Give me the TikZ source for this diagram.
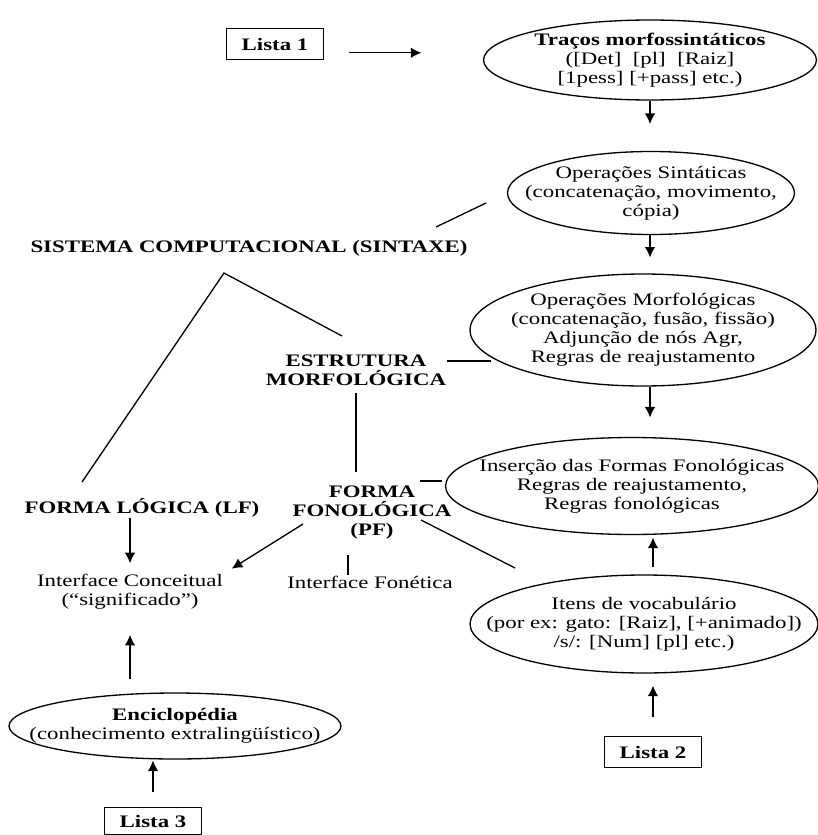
\documentclass[tikz,border=0pt]{standalone}
\usepackage{fontspec}
\setmainfont{Liberation Serif}[FakeStretch=1.3]
\usetikzlibrary{arrows.meta,shapes.geometric}

\begin{document}
\begin{tikzpicture}[x=0.02cm,y=-0.02cm,line width=0.75pt,
    >={Latex[length=6pt,width=6pt]},
    every node/.style={font=\fontsize{10}{10.8}\selectfont},
    oval/.style={draw,ellipse,inner xsep=-1cm,inner ysep=-0.5cm,align=center},
    lista/.style={draw,rectangle,inner sep=0pt,minimum width=1.94cm,minimum height=0.62cm,
      font=\fontsize{10}{10.8}\selectfont\bfseries},
    rotulo/.style={inner sep=0pt,align=center,font=\fontsize{10}{10.8}\selectfont\bfseries}]
  \useasboundingbox (0,0) rectangle (818,835);

  % coluna da direita
  \node[lista] (lista1) at (275,44) {Lista 1};
  \node[oval,minimum width=6.66cm,minimum height=1.6cm] (tracos) at (650,60)
    {\textbf{Traços morfossintáticos}\\([Det]~~[pl]~~[Raiz]\\{}[1pess] [+pass] etc.)};
  \node[oval,minimum width=5.74cm,minimum height=1.66cm] (sint) at (651,193)
    {Operações Sintáticas\\(concatenação, movimento,\\cópia)};
  \node[oval,minimum width=6.92cm,minimum height=2.24cm] (morf) at (643,330)
    {Operações Morfológicas\\(concatenação, fusão, fissão)\\Adjunção de nós Agr,\\Regras de reajustamento};
  \node[oval,minimum width=7.46cm,minimum height=1.94cm] (insercao) at (632,486)
    {Inserção das Formas Fonológicas\\Regras de reajustamento,\\Regras fonológicas};
  \node[oval,minimum width=6.96cm,minimum height=1.96cm] (itens) at (644,624)
    {Itens de vocabulário\\(por ex: gato: [Raiz], [+animado])\\/s/: [Num] [pl] etc.)};
  \node[lista] (lista2) at (653,752) {Lista 2};

  % coluna da esquerda
  \node[rotulo] (sistema) at (249,248) {SISTEMA COMPUTACIONAL (SINTAXE)};
  \node[rotulo] (estrutura) at (356,370) {ESTRUTURA\\MORFOLÓGICA};
  \node[rotulo] (pf) at (372,513) {FORMA\\FONOLÓGICA\\(PF)};
  \node[rotulo] (lf) at (142,508) {FORMA LÓGICA (LF)};
  \node[align=center,inner sep=0pt] (intconc) at (130,592) {Interface Conceitual\\(“significado”)};
  \node[inner sep=0pt] (intfon) at (370,582) {Interface Fonética};
  \node[oval,minimum width=6.64cm,minimum height=1.32cm] (encicl) at (175,726)
    {\textbf{Enciclopédia}\\(conhecimento extralingüístico)};
  \node[lista,minimum height=0.54cm] (lista3) at (153,821) {Lista 3};

  \coordinate (apice) at (224,273);
  \coordinate (lfTopo) at (82,482);
  \coordinate (estTopo) at (342,336);
  \coordinate (sintFim) at (436,227);
  \coordinate (pfDir) at (420,481);
  \coordinate (pfEsq) at (303,524);
  \coordinate (pfBaixo) at (421,520);
  \coordinate (itensFim) at (515,568);
  \coordinate (fonTopo) at (348,555);

  \draw[->,shorten <=14pt,shorten >=35pt] ([yshift=-5pt]lista1.east) -- ([yshift=-5pt]lista1.east -| tracos.west);
  \draw[->,shorten >=15.3pt] (tracos.south) -- (tracos.south |- sint.north);
  \draw[->,shorten >=9pt] (sint.south -| tracos.south) -- (morf.north -| tracos.south);
  \draw[->,shorten >=11pt] (morf.south -| tracos.south) -- (insercao.north -| tracos.south);
  \draw[->,shorten <=4pt,shorten >=1.4pt] (itens.north -| lista2.north) -- (insercao.south -| lista2.north);
  \draw[->,shorten <=11pt,shorten >=6.8pt] (lista2.north) -- (lista2.north |- itens.south);

  \draw[shorten <=13pt] (sint.west) -- (sintFim);
  \draw (lfTopo) -- (apice) -- (estTopo);
  \draw[shorten >=4pt] (estrutura.east |- morf.192) -- (morf.192);
  \draw[shorten <=3.7pt,shorten >=8pt] (estrutura.south) -- (estrutura.south |- pf.north);
  \draw[shorten >=1.5pt] (pfDir) -- (pfDir -| insercao.west);
  \draw (pfBaixo) -- (itensFim);
  \draw (fonTopo) -- (fonTopo |- intfon.north);

  \draw[->,shorten >=6pt] (lf.south -| intconc.north) -- (intconc.north);
  \draw[->,shorten >=5.5pt] (pfEsq) -- (intconc.north east);
  \draw[->,shorten <=7.4pt,shorten >=14pt] (encicl.north -| intconc.south) -- (intconc.south);
  \draw[->,shorten <=8.2pt,shorten >=0.5pt] (lista3.north) -- (lista3.north |- encicl.south);
\end{tikzpicture}
\end{document}
